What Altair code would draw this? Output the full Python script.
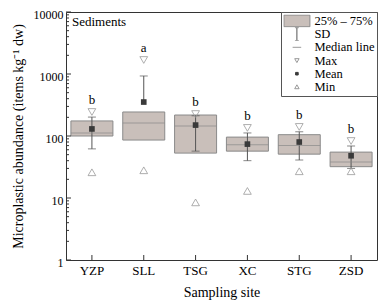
import altair as alt
import pandas as pd

sites = ["YZP", "SLL", "TSG", "XC", "STG", "ZSD"]
q1 = [100, 86, 53, 57, 51, 32]
q3 = [175, 244, 218, 96, 105, 55]
median = [112, 162, 145, 72, 70, 38]
mean = [130, 353, 150, 74, 80, 48]
sd_hi = [202, 929, 212, 112, 117, 69]
sd_lo = [62, None, 57, 40, 41, 30]
vmax = [244, 1682, 226, 135, 140, 83]
vmin = [26, 28, 8.5, 13, 27, 27]
letters = ["b", "a", "b", "b", "b", "b"]

legend_items = ["25% \u2013 75%", "SD", "Median line", "Max", "Mean", "Min"]
legend_fill = ["#c9bfba", "transparent", "transparent", "white", "#3a3a3a", "white"]
legend_stroke = ["#8a8a8a", "#555555", "#9a9a9a", "#999999", "#3a3a3a", "#999999"]
legend_shapes = [
    "M-1,-0.45H1V0.45H-1Z",
    "M-0.15,-0.5H0.15M0,-0.5V0.5M-0.15,0.5H0.15",
    "M-0.33,0H0.33",
    "M-0.17,-0.14H0.17L0,0.16Z",
    "M-0.1,-0.1H0.1V0.1H-0.1Z",
    "M-0.17,0.14H0.17L0,-0.16Z",
]

major = [1, 10, 100, 1000, 10000]
minor = [m * d for d in [1, 10, 100, 1000] for m in range(2, 10)]
panel_label = ["Sediments"]

FONT = "Liberation Serif"
W, H = 311, 248
TICK = "#333333"

df = pd.DataFrame({
    "site": sites, "q1": q1, "q3": q3, "median": median, "mean": mean,
    "sd_hi": sd_hi, "sd_lo": sd_lo, "max": vmax, "min": vmin, "letter": letters,
})
df["rule_lo"] = [m if pd.isna(lo) else lo for lo, m in zip(df["sd_lo"], df["mean"])]
df_lo = df.dropna(subset=["sd_lo"])

xscale = alt.Scale(domain=sites, paddingInner=0, paddingOuter=0)
yscale = alt.Scale(type="log", domain=[1, 10000])

base = alt.Chart(df)

x_main = alt.X("site:N", scale=xscale, sort=sites, axis=alt.Axis(
    orient="bottom", title="Sampling site", ticks=False, labelAngle=0, labelPadding=4,
    domain=False, grid=False, labelFont=FONT, labelFontSize=13, labelColor="black",
    labelFontWeight="normal",
    titleFont=FONT, titleFontSize=14, titleFontWeight="normal", titleColor="black", titlePadding=8))
y_main = alt.Y("q1:Q", scale=yscale, axis=alt.Axis(
    orient="left", title="Microplastic abundance (items kg\u207b\u00b9 dw)", ticks=False,
    values=major, format="d", labelPadding=3, labelOffset=2, domain=False, grid=False,
    labelFont=FONT, labelFontSize=12, labelColor="black", labelFontWeight="normal",
    titleFont=FONT, titleFontSize=14, titleFontWeight="normal", titleColor="black", titlePadding=8))

xn = alt.X("site:N", scale=xscale, sort=sites, axis=None)

def yq(field):
    return alt.Y(field, scale=yscale, axis=None)

# inward axis ticks, placed by the scales
ytick_major = alt.Chart(pd.DataFrame({"v": major})).mark_rule(color=TICK, strokeWidth=1).encode(
    y=yq("v:Q"), x=alt.value(0), x2=alt.value(5))
ytick_minor = alt.Chart(pd.DataFrame({"v": minor})).mark_rule(color=TICK, strokeWidth=1).encode(
    y=yq("v:Q"), x=alt.value(0), x2=alt.value(3))
xtick = alt.Chart(pd.DataFrame({"site": sites})).mark_rule(color=TICK, strokeWidth=1).encode(
    x=xn, y=alt.value(H), y2=alt.value(H - 5))

rule = base.mark_rule(color="#555555", strokeWidth=1).encode(
    x=xn, y=yq("rule_lo:Q"), y2="sd_hi:Q")
cap_hi = base.mark_tick(color="#555555", size=8, thickness=1).encode(x=xn, y=yq("sd_hi:Q"))
cap_lo = alt.Chart(df_lo).mark_tick(color="#555555", size=8, thickness=1).encode(x=xn, y=yq("sd_lo:Q"))
box = base.mark_bar(size=42, fill="#c9bfba", stroke="#8a8a8a", strokeWidth=1).encode(
    x=x_main, y=y_main, y2="q3:Q")
med = base.mark_tick(color="#8a8a8a", size=42, thickness=1).encode(x=xn, y=yq("median:Q"))
mean_pt = base.mark_square(size=32, opacity=1).encode(
    x=xn, y=yq("mean:Q"), color=alt.value("#3a3a3a"))
max_pt = base.mark_point(shape="triangle-down", size=60, filled=False, strokeWidth=0.8, opacity=1).encode(
    x=xn, y=yq("max:Q"), color=alt.value("#999999"))
min_pt = base.mark_point(shape="triangle-up", size=60, filled=False, strokeWidth=0.8, opacity=1).encode(
    x=xn, y=yq("min:Q"), color=alt.value("#999999"))
lab = base.mark_text(font=FONT, fontSize=13, dy=-12).encode(
    x=xn, y=yq("max:Q"), text="letter:N", color=alt.value("black"))
panel = alt.Chart(pd.DataFrame({"t": panel_label})).mark_text(
    font=FONT, fontSize=13, align="left", baseline="middle").encode(
    x=alt.value(6), y=alt.value(10), text="t:N", color=alt.value("black"))

leg = alt.Legend(title=None, orient="top-right", offset=0, padding=2.4,
                 strokeColor="#555555", fillColor="white", symbolSize=676, clipHeight=13,
                 symbolStrokeWidth=1, symbolOpacity=1, labelFont=FONT, labelFontSize=12.5,
                 labelColor="black", labelOffset=4, rowPadding=0.2, labelLimit=200)
leg_df = pd.DataFrame({"item": legend_items, "site": [sites[0]] * 6, "v": [100] * 6})
legend_layer = alt.Chart(leg_df).mark_point(filled=True, opacity=0).encode(
    x=xn, y=yq("v:Q"),
    fill=alt.Fill("item:N", sort=None, scale=alt.Scale(domain=legend_items, range=legend_fill), legend=leg),
    stroke=alt.Stroke("item:N", sort=None, scale=alt.Scale(domain=legend_items, range=legend_stroke), legend=leg),
    shape=alt.Shape("item:N", sort=None, scale=alt.Scale(domain=legend_items, range=legend_shapes), legend=leg),
)

chart = alt.layer(
    box, ytick_major, ytick_minor, xtick, rule, cap_hi, cap_lo, med, mean_pt, max_pt, min_pt, lab,
    panel, legend_layer
).resolve_axis(x="independent", y="independent").properties(
    width=W, height=H,
    autosize=alt.AutoSizeParams(type="none"),
    padding={"left": 58, "top": 4, "right": 1, "bottom": 40},
).configure(
    background="white",
    font=FONT,
    view=alt.ViewConfig(stroke="#333333", strokeWidth=1),
    axis=alt.AxisConfig(labelFont=FONT, titleFont=FONT, labelFontWeight="normal"),
    text=alt.MarkConfig(font=FONT),
)

chart.save("out.html", embed_options={"renderer": "svg", "actions": False})
